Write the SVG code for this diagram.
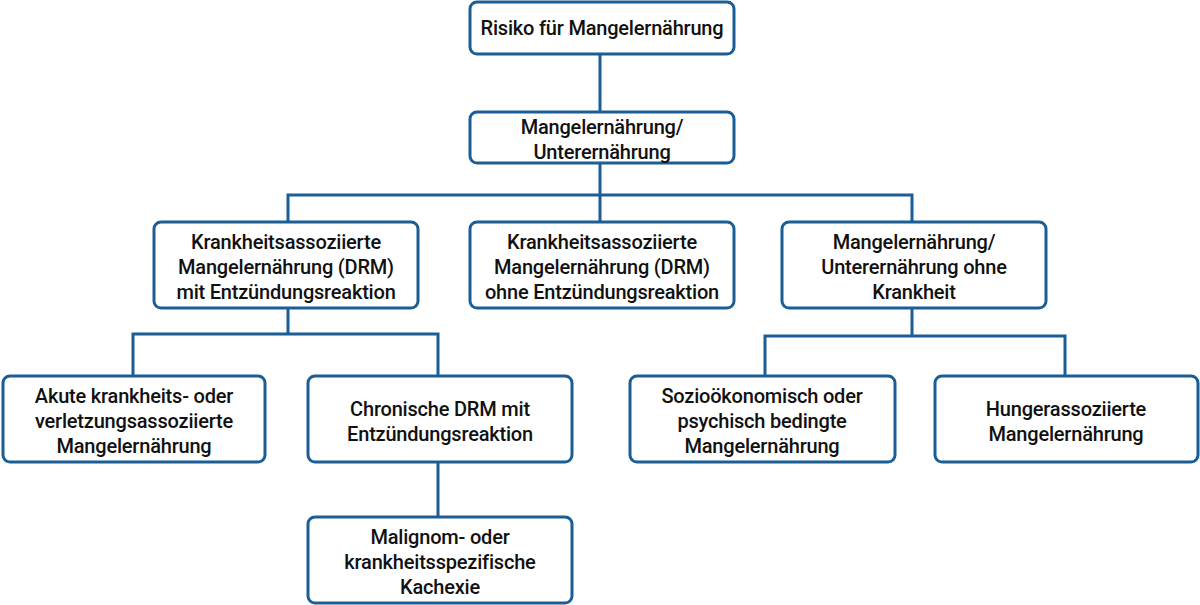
<svg xmlns="http://www.w3.org/2000/svg" width="1200" height="605" viewBox="0 0 1200 605">
<style>
.b{fill:#fff;stroke:#1b5e96;stroke-width:3}
.c{fill:none;stroke:#1b5e96;stroke-width:3}
text{font-family:Roboto,"Liberation Sans",sans-serif;font-weight:500;font-size:20px;fill:#111;text-anchor:middle;letter-spacing:-0.2px}
</style>
<rect width="1200" height="605" fill="#fff"/>
<g id="connectors">
<path class="c" d="M600 54V112M600 163V222M288 222V195H912V222M288 308V334M133 376V334H438V376M438 462V517M912 308V336M765 376V336H1065V376"/>
</g>
<g id="n1"><rect class="b" x="470" y="2" width="264" height="52" rx="7"/><text x="602" y="35">Risiko für Mangelernährung</text></g>
<g id="n2"><rect class="b" x="470" y="112" width="264" height="51" rx="7"/><text x="602" y="134">Mangelernährung/</text><text x="602" y="159">Unterernährung</text></g>
<g id="n3"><rect class="b" x="154" y="222" width="264" height="86" rx="7"/><text x="286" y="249">Krankheitsassoziierte</text><text x="286" y="274">Mangelernährung (DRM)</text><text x="286" y="299">mit Entzündungsreaktion</text></g>
<g id="n4"><rect class="b" x="470" y="222" width="264" height="86" rx="7"/><text x="602" y="249">Krankheitsassoziierte</text><text x="602" y="274">Mangelernährung (DRM)</text><text x="602" y="299">ohne  Entzündungsreaktion</text></g>
<g id="n5"><rect class="b" x="782" y="222" width="264" height="86" rx="7"/><text x="914" y="249">Mangelernährung/</text><text x="914" y="274">Unterernährung ohne</text><text x="914" y="299">Krankheit</text></g>
<g id="n6"><rect class="b" x="3" y="376" width="262" height="86" rx="7"/><text x="134" y="403">Akute krankheits- oder</text><text x="134" y="428">verletzungsassoziierte</text><text x="134" y="453">Mangelernährung</text></g>
<g id="n7"><rect class="b" x="308" y="376" width="264" height="86" rx="7"/><text x="440" y="416">Chronische DRM mit</text><text x="440" y="441">Entzündungsreaktion</text></g>
<g id="n8"><rect class="b" x="630" y="376" width="265" height="86" rx="7"/><text x="762" y="403">Sozioökonomisch oder</text><text x="762" y="428">psychisch bedingte</text><text x="762" y="453">Mangelernährung</text></g>
<g id="n9"><rect class="b" x="935" y="376" width="263" height="86" rx="7"/><text x="1066" y="416">Hungerassoziierte</text><text x="1066" y="441">Mangelernährung</text></g>
<g id="n10"><rect class="b" x="308" y="517" width="264" height="86" rx="7"/><text x="440" y="544">Malignom- oder</text><text x="440" y="569">krankheitsspezifische</text><text x="440" y="594">Kachexie</text></g>
</svg>
